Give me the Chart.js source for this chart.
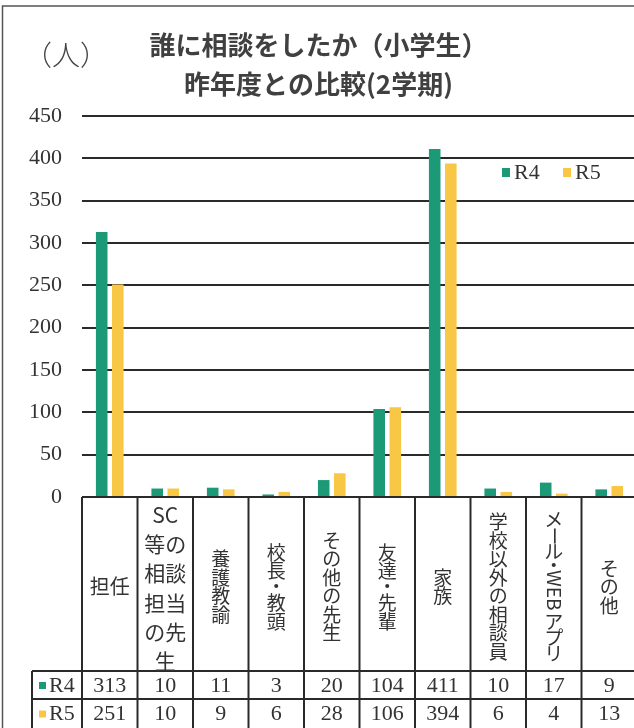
<!DOCTYPE html>
<html><head><meta charset="utf-8">
<script src="https://cdn.jsdelivr.net/npm/chart.js@4/dist/chart.umd.min.js"></script>
<style>html,body{margin:0;padding:0;background:#fff;overflow:hidden;}#wrap{position:relative;width:640px;height:728px;}</style>
</head><body><div id="wrap"><canvas id="c" width="640" height="728"></canvas></div>
<script>
const categories = ['担任','SC等の相談担当の先生','養護教諭','校長・教頭','その他の先生','友達・先輩','家族','学校以外の相談員','メール・WEB アプリ','その他'];
const seriesLabels = ['R4','R5'];
const r4Values = [313,10,11,3,20,104,411,10,17,9];
const r5Values = [251,10,9,6,28,106,394,6,4,13];
const yMin = 0, yMax = 450, yStep = 50;
const titleLines = ['誰に相談をしたか（小学生）','昨年度との比較(2学期)'];
const unitLabel = '（人）';

const seriesColors = ['#1c9a78','#f8c746'];
const labelModes = ['h','wrap','v','v','v','v','v','v','v','v'];
const lineColor = '#2a2a2a';

Chart.defaults.font.family = '"Liberation Serif", "Times New Roman", serif';

function drawVertical(ctx, text, cx, cy, step, maxH){
  const tokens=[]; let i=0;
  while(i<text.length){
    const ch=text[i];
    if(/[A-Za-z0-9]/.test(ch)){
      let j=i; while(j<text.length && /[A-Za-z0-9]/.test(text[j])) j++;
      const s=text.slice(i,j);
      tokens.push({s, rot:true, h:ctx.measureText(s).width+2}); i=j;
    } else if(ch===' '){ tokens.push({s:'',h:step*0.35}); i++; }
    else if(ch==='ー'){ tokens.push({s:ch,rot:true,h:step}); i++; }
    else if(ch==='・'){ tokens.push({s:ch,h:step*0.75}); i++; }
    else { tokens.push({s:ch,h:step}); i++; }
  }
  let total=tokens.reduce((a,t)=>a+t.h,0);
  const k = total>maxH ? maxH/total : 1;
  total*=k;
  let yy=cy-total/2;
  for(const t of tokens){
    const h=t.h*k, c=yy+h/2;
    if(t.rot){ ctx.save(); ctx.translate(cx,c); ctx.rotate(Math.PI/2); ctx.fillText(t.s,0,0); ctx.restore(); }
    else if(t.s) ctx.fillText(t.s,cx,c);
    yy+=h;
  }
}

const tablePlugin = {
  id:'tablePlugin',
  beforeDraw(chart){
    const ctx=chart.ctx; ctx.save();
    ctx.fillStyle='#fff'; ctx.fillRect(0,0,chart.width,chart.height);
    ctx.strokeStyle='#555'; ctx.lineWidth=1.5;
    ctx.beginPath(); ctx.moveTo(2.5,chart.height); ctx.lineTo(2.5,6); ctx.lineTo(chart.width,6); ctx.stroke();
    ctx.fillStyle='#444'; ctx.font='300 28px "Noto Sans CJK JP"'; ctx.textAlign='center'; ctx.textBaseline='middle';
    ctx.fillText(unitLabel,66,55);
    ctx.restore();
  },
  afterDraw(chart){
    const ctx=chart.ctx, xs=chart.scales.x, ys=chart.scales.y, area=chart.chartArea;
    const n=categories.length, colW=(area.right-area.left)/n;
    const top=ys.getPixelForValue(0), rowTop=671, rowMid=699, bottom=chart.height, headerLeft=32;
    ctx.save();
    ctx.strokeStyle=lineColor; ctx.lineWidth=2;
    const line=(a,b,c,d)=>{ctx.beginPath();ctx.moveTo(a,b);ctx.lineTo(c,d);ctx.stroke();};
    line(area.left,top,chart.width,top);
    line(headerLeft,rowTop,chart.width,rowTop);
    line(headerLeft,rowMid,chart.width,rowMid);
    for(let i=0;i<=n;i++){
      const xi = i<n ? xs.getPixelForValue(i)-colW/2 : xs.getPixelForValue(n-1)+colW/2;
      line(xi,top,xi,bottom);
    }
    line(headerLeft,rowTop,headerLeft,bottom);
    ctx.fillStyle='#333'; ctx.textAlign='center'; ctx.textBaseline='middle';
    const cellMid=(top+rowTop)/2;
    categories.forEach((c,i)=>{
      const cx=xs.getPixelForValue(i);
      const mode=labelModes[i];
      if(mode==='h'){ ctx.font='20px "Noto Sans CJK JP"'; ctx.fillText(c,cx,cellMid+2); }
      else if(mode==='wrap'){
        ctx.font='21px "Noto Sans CJK JP"';
        const lines=[]; for(let k=0;k<c.length;k+=2) lines.push(c.slice(k,k+2));
        const lh=29.3, y0=cellMid+4-(lines.length-1)*lh/2;
        lines.forEach((l,k)=>ctx.fillText(l,cx,y0+k*lh));
      } else {
        ctx.font='19px "Noto Sans CJK JP"';
        drawVertical(ctx,c,cx,cellMid+3,18.5,150);
      }
    });
    const rows=[r4Values,r5Values], centers=[(rowTop+rowMid)/2+1,(rowMid+bottom)/2+1];
    rows.forEach((vals,r)=>{
      const cy=centers[r];
      ctx.fillStyle=seriesColors[r]; ctx.fillRect(39,cy-4,7,7);
      ctx.fillStyle='#333'; ctx.font='22px "Liberation Serif"'; ctx.textAlign='left';
      ctx.fillText(seriesLabels[r],49,cy);
      ctx.textAlign='center';
      vals.forEach((v,i)=>ctx.fillText(String(v),xs.getPixelForValue(i),cy));
    });
    const lx=[502,563];
    seriesLabels.forEach((s,r)=>{
      ctx.fillStyle=seriesColors[r]; ctx.fillRect(lx[r],168,8,9);
      ctx.fillStyle='#333'; ctx.font='22px "Liberation Serif"'; ctx.textAlign='left'; ctx.textBaseline='middle';
      ctx.fillText(s,lx[r]+12,173);
    });
    ctx.restore();
  }
};

new Chart(document.getElementById('c'),{
  type:'bar',
  data:{labels:categories,datasets:[
    {label:seriesLabels[0],data:r4Values,backgroundColor:seriesColors[0],barPercentage:0.72,categoryPercentage:0.58},
    {label:seriesLabels[1],data:r5Values,backgroundColor:seriesColors[1],barPercentage:0.72,categoryPercentage:0.58}
  ]},
  options:{
    responsive:false, animation:false, devicePixelRatio:1,
    layout:{padding:{left:0,right:3,top:0,bottom:231}},
    plugins:{
      legend:{display:false}, tooltip:{enabled:false},
      title:{display:true,text:titleLines,color:'#404040',font:{family:'"Noto Sans CJK JP"',size:26,weight:'bold',lineHeight:1.5},padding:{top:26,bottom:12}}
    },
    scales:{
      x:{display:false},
      y:{min:yMin,max:yMax,
        ticks:{stepSize:yStep,color:'#333',font:{family:'"Liberation Serif", serif',size:22},padding:20},
        grid:{color:lineColor,lineWidth:2,drawTicks:false},
        border:{display:false},
        afterFit(s){s.width=82;}
      }
    }
  },
  plugins:[tablePlugin]
});
</script></body></html>
